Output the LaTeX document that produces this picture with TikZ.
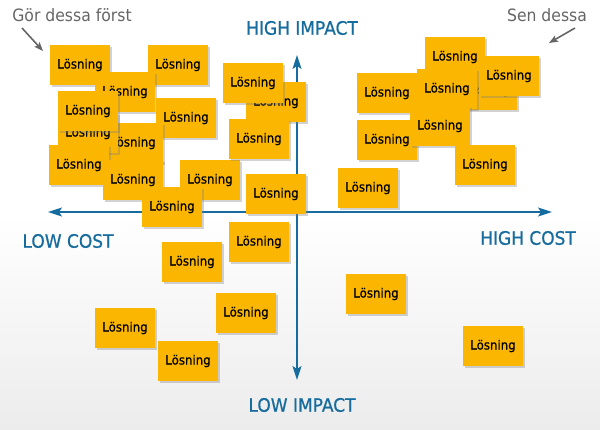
\documentclass[tikz,border=0pt]{standalone}
\usepackage{fontspec}
\setmainfont{DejaVu Sans}[FakeStretch=0.92]
\newfontfamily\heavyfont{DejaVu Sans}[FakeStretch=0.92,FakeBold=0.7]
\usepackage{tikz}
\usetikzlibrary{shadows,arrows.meta}
\definecolor{postit}{RGB}{250,182,0}
\definecolor{axisblue}{RGB}{22,108,158}
\definecolor{hintgray}{RGB}{102,102,102}
\definecolor{floorgray}{RGB}{236,236,236}
\pgfdeclarelayer{bglayer}
\pgfdeclarelayer{edgelayer}
\pgfdeclarelayer{nodelayer}
\pgfsetlayers{bglayer,edgelayer,nodelayer,main}
\tikzstyle{none}=[inner sep=0pt]
\tikzstyle{note}=[rectangle,fill=postit,minimum width=60pt,minimum height=40pt,inner sep=0pt,font=\heavyfont\fontsize{12.8}{14}\selectfont,drop shadow={shadow xshift=1.5pt,shadow yshift=-1.5pt,opacity=.35}]
\tikzstyle{axislabel}=[text=axisblue,font=\heavyfont\fontsize{18.5}{20}\selectfont]
\tikzstyle{hintlabel}=[text=hintgray,font=\fontsize{17}{19}\selectfont]
\tikzstyle{axis}=[{Stealth[length=14pt,width=9pt,inset=3pt]}-{Stealth[length=14pt,width=9pt,inset=3pt]},draw=axisblue,line width=1.6]
\tikzstyle{hintarrow}=[-{Stealth[length=9pt,width=7pt,inset=2pt]},draw=hintgray,line width=1.6]

\begin{document}
\begin{tikzpicture}[x=1pt,y=-1pt]
	\begin{pgfonlayer}{bglayer}
		\fill [white] (0,0) rectangle (600,215);
		\shade [top color=white,bottom color=floorgray] (0,215) rectangle (600,429);
	\end{pgfonlayer}
	\useasboundingbox (0,0) rectangle (600,429);
	\begin{pgfonlayer}{nodelayer}
		\node [style=axislabel] (HI) at (302, 28) {HIGH IMPACT};
		\node [style=axislabel] (LI) at (302, 405) {LOW IMPACT};
		\node [style=axislabel] (LC) at (68, 241) {LOW COST};
		\node [style=axislabel] (HC) at (528, 238) {HIGH COST};

		\node [style=none] (Ct) at (297, 55) {};
		\node [style=none] (Cb) at (297, 380) {};
		\node [style=none] (Cl) at (48, 212) {};
		\node [style=none] (Cr) at (552, 212) {};

		\node [style=hintlabel] (G) at (72, 15) {Gör dessa först};
		\node [style=none] (Gs) at (22, 28) {};
		\node [style=none] (Ge) at (43, 51) {};
		\node [style=hintlabel] (S) at (547, 15) {Sen dessa};
		\node [style=none] (Ss) at (575, 28) {};
		\node [style=none] (Se) at (549, 43) {};

		\node [style=note] (n1) at (80, 65) {Lösning};
		\node [style=note] (n2) at (178, 65) {Lösning};
		\node [style=note] (n3) at (125, 92) {Lösning};
		\node [style=note] (n4) at (186, 118) {Lösning};
		\node [style=note] (n5) at (133, 143) {Lösning};
		\node [style=note] (n6) at (88, 133) {Lösning};
		\node [style=note] (n7) at (88, 111) {Lösning};
		\node [style=note] (n8) at (79, 165) {Lösning};
		\node [style=note] (n9) at (133, 180) {Lösning};
		\node [style=note] (n10) at (210, 180) {Lösning};
		\node [style=note] (n11) at (172, 207) {Lösning};
		\node [style=note] (n12) at (276, 102) {Lösning};
		\node [style=note] (n13) at (253, 83) {Lösning};
		\node [style=note] (n14) at (259, 139) {Lösning};
		\node [style=note] (n15) at (276, 194) {Lösning};
		\node [style=note] (n16) at (259, 242) {Lösning};
		\node [style=note] (n17) at (192, 262) {Lösning};
		\node [style=note] (n18) at (246, 313) {Lösning};
		\node [style=note] (n19) at (125, 328) {Lösning};
		\node [style=note] (n20) at (188, 361) {Lösning};

		\node [style=note] (n21) at (387, 93) {Lösning};
		\node [style=note] (n22) at (387, 140) {Lösning};
		\node [style=note] (n23) at (455, 57) {Lösning};
		\node [style=note] (n24) at (487, 90) {Lösning};
		\node [style=note] (n25) at (447, 89) {Lösning};
		\node [style=note] (n26) at (509, 76) {Lösning};
		\node [style=note] (n27) at (440, 126) {Lösning};
		\node [style=note] (n28) at (485, 165) {Lösning};
		\node [style=note] (n29) at (368, 188) {Lösning};
		\node [style=note] (n30) at (376, 294) {Lösning};
		\node [style=note] (n31) at (493, 346) {Lösning};
	\end{pgfonlayer}
	\begin{pgfonlayer}{edgelayer}
		\draw [style=axis] (Cl.center) to (Cr.center);
		\draw [style=axis] (Ct.center) to (Cb.center);
		\draw [style=hintarrow] (Gs.center) to (Ge.center);
		\draw [style=hintarrow] (Ss.center) to (Se.center);
	\end{pgfonlayer}
\end{tikzpicture}
\end{document}
